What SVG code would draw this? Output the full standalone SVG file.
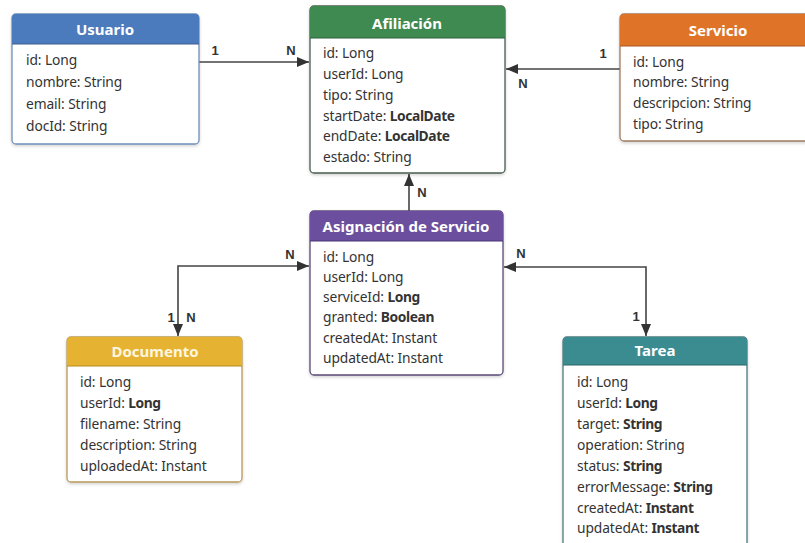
<svg xmlns="http://www.w3.org/2000/svg" width="805" height="543" viewBox="0 0 805 543">
<defs>
<marker id="arr" viewBox="0 0 12 10" refX="12" refY="5" markerWidth="12" markerHeight="10" markerUnits="userSpaceOnUse" orient="auto-start-reverse">
<path d="M0,0 L12,5 L0,10 Z" fill="#333"/>
</marker>
<filter id="sh" x="-10%" y="-10%" width="120%" height="120%">
<feDropShadow dx="0" dy="1.5" stdDeviation="1.5" flood-color="#000" flood-opacity="0.18"/>
</filter>
</defs>
<style>
.body{fill:#fff;stroke-width:1.3;filter:url(#sh)}
.title{font-family:"Noto Sans","Open Sans",sans-serif;font-size:15px;font-weight:bold;fill:#fff;text-anchor:middle}
.attr{font-family:"Noto Sans","Open Sans",sans-serif;font-size:13.8px;fill:#333;letter-spacing:-0.1px}
.attr tspan.b{font-weight:bold;letter-spacing:-0.4px}
.lbl{font-family:"Liberation Sans",Arial,sans-serif;font-size:13px;font-weight:bold;fill:#333;text-anchor:middle}
.conn{fill:none;stroke:#444;stroke-width:1.6}
</style>
<rect width="805" height="543" fill="#fff"/>

<g id="connectors">
<path class="conn" d="M199,62 H309" marker-end="url(#arr)"/>
<text class="lbl" x="215" y="55">1</text>
<text class="lbl" x="291" y="55">N</text>
<path class="conn" d="M620,69 H506" marker-end="url(#arr)"/>
<text class="lbl" x="603" y="58">1</text>
<text class="lbl" x="523" y="88">N</text>
<path class="conn" d="M409,211 V174" marker-end="url(#arr)"/>
<text class="lbl" x="422" y="197">N</text>
<path class="conn" d="M178,336 V266 H309" marker-start="url(#arr)" marker-end="url(#arr)"/>
<text class="lbl" x="290" y="259">N</text>
<text class="lbl" x="171" y="322">1</text>
<text class="lbl" x="191" y="322">N</text>
<path class="conn" d="M646,336 V267 H504" marker-start="url(#arr)" marker-end="url(#arr)"/>
<text class="lbl" x="521" y="258">N</text>
<text class="lbl" x="636" y="321">1</text>
</g>

<g id="usuario">
<rect class="body" x="12" y="14" width="187" height="130" rx="4" stroke="#6f8fb8"/>
<path d="M12,44 V18 a4,4 0 0 1 4,-4 H195 a4,4 0 0 1 4,4 V44 Z" fill="#4b7bbd"/>
<line x1="12" y1="44" x2="199" y2="44" stroke="#3c5f8f" stroke-width="1.2"/>
<text class="title" x="105" y="35">Usuario</text>
<text class="attr" x="26" y="65">id: Long</text>
<text class="attr" x="26" y="87">nombre: String</text>
<text class="attr" x="26" y="109">email: String</text>
<text class="attr" x="26" y="131">docId: String</text>
</g>

<g id="afiliacion">
<rect class="body" x="310" y="6" width="195" height="167" rx="4" stroke="#4a5e50"/>
<path d="M310,38 V10 a4,4 0 0 1 4,-4 H501 a4,4 0 0 1 4,4 V38 Z" fill="#3f8a50"/>
<line x1="310" y1="38" x2="505" y2="38" stroke="#2f5f3a" stroke-width="1.2"/>
<text class="title" x="407" y="29">Afiliación</text>
<text class="attr" x="323" y="58">id: Long</text>
<text class="attr" x="323" y="79">userId: Long</text>
<text class="attr" x="323" y="100">tipo: String</text>
<text class="attr" x="323" y="121">startDate: <tspan class="b">LocalDate</tspan></text>
<text class="attr" x="323" y="141">endDate: <tspan class="b">LocalDate</tspan></text>
<text class="attr" x="323" y="162">estado: String</text>
</g>

<g id="servicio">
<rect class="body" x="620" y="14" width="196" height="127" rx="4" stroke="#a07a60"/>
<path d="M620,46 V18 a4,4 0 0 1 4,-4 H812 a4,4 0 0 1 4,4 V46 Z" fill="#df7428"/>
<line x1="620" y1="46" x2="816" y2="46" stroke="#a8561e" stroke-width="1.2"/>
<text class="title" x="718" y="36">Servicio</text>
<text class="attr" x="633" y="67">id: Long</text>
<text class="attr" x="633" y="87">nombre: String</text>
<text class="attr" x="633" y="108">descripcion: String</text>
<text class="attr" x="633" y="129">tipo: String</text>
</g>

<g id="asignacion">
<rect class="body" x="310" y="211" width="193" height="164" rx="4" stroke="#5a4a78"/>
<path d="M310,241 V215 a4,4 0 0 1 4,-4 H499 a4,4 0 0 1 4,4 V241 Z" fill="#6b4f9e"/>
<line x1="310" y1="241" x2="503" y2="241" stroke="#4b3673" stroke-width="1.2"/>
<text class="title" x="406" y="232">Asignación de Servicio</text>
<text class="attr" x="323" y="262">id: Long</text>
<text class="attr" x="323" y="282">userId: Long</text>
<text class="attr" x="323" y="302">serviceId: <tspan class="b">Long</tspan></text>
<text class="attr" x="323" y="322">granted: <tspan class="b">Boolean</tspan></text>
<text class="attr" x="323" y="343">createdAt: Instant</text>
<text class="attr" x="323" y="363">updatedAt: Instant</text>
</g>

<g id="documento">
<rect class="body" x="67" y="337" width="175" height="145" rx="4" stroke="#b89a5a"/>
<path d="M67,366 V341 a4,4 0 0 1 4,-4 H238 a4,4 0 0 1 4,4 V366 Z" fill="#e6b232"/>
<line x1="67" y1="366" x2="242" y2="366" stroke="#b58a20" stroke-width="1.2"/>
<text class="title" x="155" y="357" style="fill:#fdf6df">Documento</text>
<text class="attr" x="80" y="387">id: Long</text>
<text class="attr" x="80" y="408">userId: <tspan class="b">Long</tspan></text>
<text class="attr" x="80" y="429">filename: String</text>
<text class="attr" x="80" y="450">description: String</text>
<text class="attr" x="80" y="471">uploadedAt: Instant</text>
</g>

<g id="tarea">
<rect class="body" x="563" y="337" width="184" height="215" rx="4" stroke="#4f7a7c"/>
<path d="M563,365 V341 a4,4 0 0 1 4,-4 H743 a4,4 0 0 1 4,4 V365 Z" fill="#3b8c90"/>
<line x1="563" y1="365" x2="747" y2="365" stroke="#2a6669" stroke-width="1.2"/>
<text class="title" x="655" y="356">Tarea</text>
<text class="attr" x="577" y="387">id: Long</text>
<text class="attr" x="577" y="408">userId: <tspan class="b">Long</tspan></text>
<text class="attr" x="577" y="429">target: <tspan class="b">String</tspan></text>
<text class="attr" x="577" y="450">operation: String</text>
<text class="attr" x="577" y="471">status: <tspan class="b">String</tspan></text>
<text class="attr" x="577" y="492">errorMessage: <tspan class="b">String</tspan></text>
<text class="attr" x="577" y="513">createdAt: <tspan class="b">Instant</tspan></text>
<text class="attr" x="577" y="533">updatedAt: <tspan class="b">Instant</tspan></text>
</g>
</svg>
